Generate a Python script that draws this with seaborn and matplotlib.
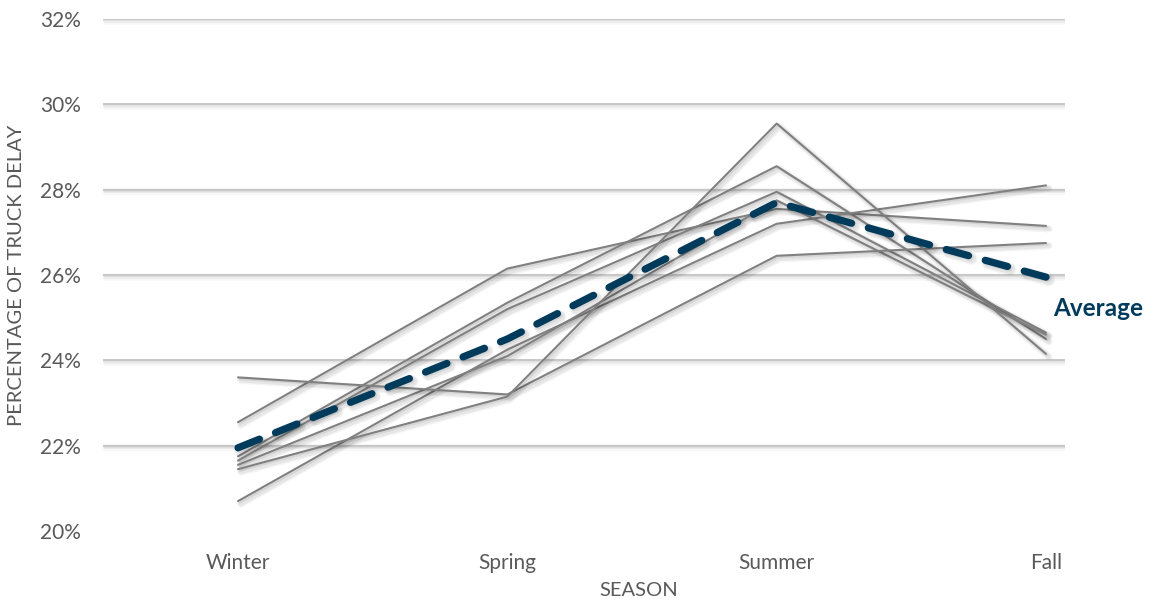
import matplotlib
matplotlib.use("Agg")
import matplotlib.pyplot as plt
import matplotlib.patheffects as pe
import numpy as np
import pandas as pd
import seaborn as sns

# Seasons and percentage of truck delay (%) per corridor
seasons = ["Winter", "Spring", "Summer", "Fall"]
corridor_a = [22.55, 26.15, 27.55, 27.15]
corridor_b = [21.75, 25.35, 28.55, 24.50]
corridor_c = [21.65, 25.20, 27.95, 24.65]
corridor_d = [20.70, 24.25, 27.20, 28.10]
corridor_e = [21.55, 24.10, 27.75, 24.60]
corridor_f = [23.60, 23.20, 26.45, 26.75]
corridor_g = [21.45, 23.15, 29.55, 24.15]
average = [21.95, 24.50, 27.70, 25.95]
y_ticks = [20, 22, 24, 26, 28, 30, 32]

corridors = {
    "A": corridor_a, "B": corridor_b, "C": corridor_c, "D": corridor_d,
    "E": corridor_e, "F": corridor_f, "G": corridor_g,
}
rows = []
for name, vals in corridors.items():
    for i, v in enumerate(vals):
        rows.append({"corridor": name, "season_idx": i, "delay": v})
df = pd.DataFrame(rows)
avg_df = pd.DataFrame({"season_idx": range(len(seasons)), "delay": average})

sns.set_theme(style="white")
plt.rcParams["font.family"] = ["Lato", "DejaVu Sans"]

W, H = 1176, 605
fig = plt.figure(figsize=(W / 100, H / 100), dpi=100)
ax = fig.add_axes([103 / W, 1 - 531 / H, (1065 - 103) / W, (531 - 19) / H])

def soft_shadow(lw, off=2.0, strength=1.0):
    return [
        pe.SimpleLineShadow(offset=(off, -off), shadow_color="black", alpha=0.04 * strength, linewidth=lw + 4),
        pe.SimpleLineShadow(offset=(off, -off), shadow_color="black", alpha=0.06 * strength, linewidth=lw + 2),
        pe.SimpleLineShadow(offset=(off * 0.6, -off * 0.6), shadow_color="black", alpha=0.07 * strength, linewidth=lw),
        pe.Normal(),
    ]

# horizontal gridlines
for yv in y_ticks[1:]:
    ax.axhline(yv, color="#c8c8c8", lw=1.5, zorder=0, path_effects=soft_shadow(1.0, 1.2, 0.7))

gray = "#808080"
sns.lineplot(data=df, x="season_idx", y="delay", hue="corridor",
             palette=[gray] * len(corridors), linewidth=1.5, legend=False,
             ax=ax, zorder=2)
for ln in ax.get_lines()[len(y_ticks) - 1:]:
    ln.set_path_effects(soft_shadow(1.5, 2.0))

sns.lineplot(data=avg_df, x="season_idx", y="delay", color="#003b5c",
             linewidth=5.2, ax=ax, zorder=3, legend=False)
avg_line = ax.get_lines()[-1]
avg_line.set_dashes((3.2, 2.4))
avg_line.set_dash_capstyle("round")
avg_line.set_solid_capstyle("round")
avg_line.set_path_effects(soft_shadow(5.2, 2.0))

ax.text(3.026, 25.22, "Average", color="#003b5c", fontsize=17.5, fontweight="bold",
        ha="left", va="center", clip_on=False)

ax.set_xlim(-135 / 269.33, 3 + 19 / 269.33)
ax.set_ylim(20, 32)
ax.set_xticks(range(len(seasons)))
ax.set_xticklabels(seasons)
ax.set_yticks(y_ticks)
ax.set_yticklabels([f"{t}%" for t in y_ticks])
ax.tick_params(axis="both", length=0, labelsize=15, colors="#595959")
ax.tick_params(axis="x", pad=16)
ax.tick_params(axis="y", pad=16)
ax.set_xlabel("SEASON", fontsize=14.5, color="#595959")
ax.set_ylabel("PERCENTAGE OF TRUCK DELAY", fontsize=14.5, color="#595959")
ax.xaxis.set_label_coords((639 - 103) / (1065 - 103), -(582 - 531) / 512)
ax.yaxis.set_label_coords(-(103 - 8) / (1065 - 103), 0.5)
ax.yaxis.label.set_va("top")
for s in ax.spines.values():
    s.set_visible(False)
ax.grid(False)

fig.savefig("out.png", dpi=100, facecolor="white")
